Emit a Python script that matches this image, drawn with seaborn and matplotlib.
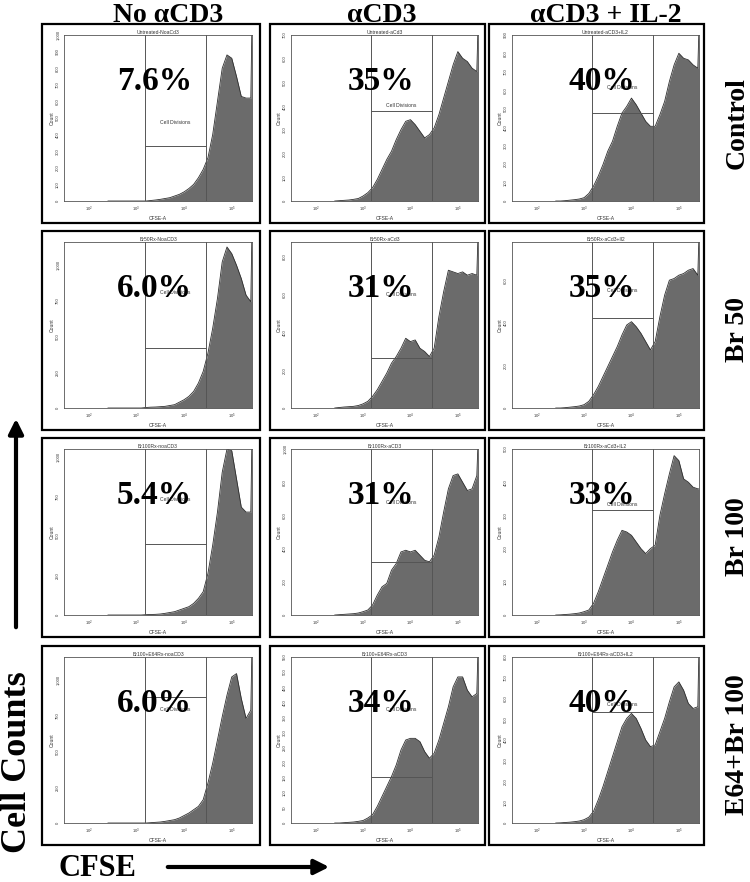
import numpy as np
import matplotlib
matplotlib.use("Agg")
import matplotlib.pyplot as plt
import seaborn as sns
from matplotlib.patches import Rectangle, FancyArrowPatch
from matplotlib.ticker import (AutoMinorLocator, FuncFormatter, LogLocator,
                               LogFormatterSciNotation, MultipleLocator, NullFormatter)

# CFSE intensity grid (log10 units), shared by every histogram; last point = off-scale pile-up
LOG_CFSE = [2.4, 2.5, 2.6, 2.7, 2.8, 2.9, 3.0, 3.1, 3.2, 3.3, 3.4, 3.5, 3.6, 3.7, 3.8,
            3.9, 4.0, 4.1, 4.2, 4.3, 4.4, 4.5, 4.6, 4.7, 4.8, 4.9, 5.0, 5.1, 5.2, 5.3,
            5.4, 5.42]

COL_LABELS = ["No \u03b1CD3", "\u03b1CD3", "\u03b1CD3 + IL-2"]
ROW_LABELS = ["Control", "Br 50", "Br 100", "E64+Br 100"]

PANEL_TITLES = [
    ["Untreated-NoaCd3", "Untreated-aCd3", "Untreated-aCD3+IL2"],
    ["Br50Rx-NoaCD3", "Br50Rx-aCd3", "Br50Rx-aCd3+Il2"],
    ["Br100Rx-noaCD3", "Br100Rx-aCD3", "Br100Rx-aCd3+IL2"],
    ["Br100+E64Rx-noaCD3", "Br100+E64Rx-aCD3", "Br100+E64Rx-aCD3+IL2"],
]
PERCENTS = [
    ["7.6%", "35%", "40%"],
    ["6.0%", "31%", "35%"],
    ["5.4%", "31%", "33%"],
    ["6.0%", "34%", "40%"],
]

# relative counts (fraction of the y-axis maximum)
control_no = [0, 0, 0, 0, 0, 0, 0, 0, 0, 0.003, 0.006, 0.01, 0.015, 0.02, 0.03,
              0.04, 0.055, 0.075, 0.10, 0.14, 0.19, 0.26, 0.40, 0.60, 0.80, 0.88, 0.86,
              0.75, 0.63, 0.62, 0.62, 1.0]
control_cd3 = [0, 0.002, 0.004, 0.006, 0.01, 0.015, 0.03, 0.05, 0.08, 0.13, 0.19, 0.25,
               0.30, 0.37, 0.43, 0.48, 0.49, 0.46, 0.42, 0.38, 0.40, 0.44, 0.52, 0.62,
               0.72, 0.82, 0.90, 0.86, 0.84, 0.80, 0.78, 1.0]
control_il2 = [0, 0, 0.002, 0.005, 0.008, 0.012, 0.02, 0.045, 0.09, 0.15, 0.22, 0.30,
               0.36, 0.45, 0.53, 0.57, 0.62, 0.58, 0.53, 0.48, 0.45, 0.45, 0.52, 0.60,
               0.72, 0.82, 0.89, 0.86, 0.85, 0.82, 0.80, 1.0]
br50_no = [0, 0, 0, 0, 0, 0, 0, 0, 0.003, 0.005, 0.006, 0.008, 0.01, 0.015, 0.02,
           0.035, 0.05, 0.07, 0.10, 0.15, 0.22, 0.33, 0.48, 0.66, 0.88, 0.97, 0.93,
           0.86, 0.78, 0.68, 0.64, 1.0]
br50_cd3 = [0, 0.003, 0.006, 0.008, 0.01, 0.015, 0.025, 0.04, 0.07, 0.11, 0.16, 0.21,
            0.27, 0.31, 0.36, 0.42, 0.40, 0.41, 0.36, 0.34, 0.31, 0.36, 0.55, 0.70,
            0.83, 0.82, 0.81, 0.82, 0.80, 0.81, 0.80, 1.0]
br50_il2 = [0, 0, 0.002, 0.005, 0.008, 0.012, 0.02, 0.04, 0.08, 0.13, 0.19, 0.25,
            0.31, 0.37, 0.44, 0.50, 0.52, 0.49, 0.45, 0.40, 0.35, 0.40, 0.55, 0.68,
            0.77, 0.78, 0.80, 0.81, 0.83, 0.84, 0.80, 1.0]
br100_no = [0, 0, 0, 0, 0, 0, 0, 0, 0.002, 0.003, 0.004, 0.006, 0.01, 0.015, 0.02,
            0.03, 0.04, 0.05, 0.07, 0.10, 0.14, 0.25, 0.42, 0.62, 0.86, 1.0, 0.99,
            0.82, 0.65, 0.62, 0.62, 1.0]
br100_cd3 = [0, 0.002, 0.004, 0.006, 0.008, 0.012, 0.02, 0.03, 0.06, 0.12, 0.17, 0.19,
             0.27, 0.31, 0.38, 0.39, 0.38, 0.39, 0.36, 0.33, 0.32, 0.36, 0.47, 0.62,
             0.76, 0.84, 0.85, 0.80, 0.75, 0.76, 0.84, 1.0]
br100_il2 = [0, 0.001, 0.003, 0.005, 0.008, 0.012, 0.02, 0.03, 0.07, 0.14, 0.22, 0.30,
             0.38, 0.45, 0.51, 0.50, 0.48, 0.44, 0.40, 0.37, 0.40, 0.42, 0.60, 0.73,
             0.85, 0.96, 0.93, 0.82, 0.80, 0.77, 0.76, 0.76]
e64_no = [0, 0, 0, 0, 0, 0, 0, 0, 0, 0.002, 0.004, 0.006, 0.01, 0.015, 0.02,
          0.03, 0.045, 0.06, 0.08, 0.10, 0.14, 0.24, 0.36, 0.50, 0.64, 0.77, 0.88,
          0.90, 0.75, 0.63, 0.68, 1.0]
e64_cd3 = [0, 0, 0.002, 0.004, 0.006, 0.01, 0.015, 0.03, 0.05, 0.10, 0.16, 0.22,
           0.28, 0.35, 0.44, 0.50, 0.51, 0.51, 0.49, 0.43, 0.39, 0.42, 0.50, 0.60,
           0.70, 0.82, 0.88, 0.88, 0.80, 0.76, 0.78, 1.0]
e64_il2 = [0, 0.001, 0.003, 0.005, 0.008, 0.012, 0.02, 0.035, 0.07, 0.14, 0.22, 0.31,
           0.40, 0.49, 0.58, 0.63, 0.66, 0.63, 0.57, 0.50, 0.46, 0.47, 0.55, 0.63,
           0.73, 0.82, 0.85, 0.80, 0.72, 0.69, 0.70, 1.0]

HISTOGRAMS = [
    [control_no, control_cd3, control_il2],
    [br50_no, br50_cd3, br50_il2],
    [br100_no, br100_cd3, br100_il2],
    [e64_no, e64_cd3, e64_il2],
]

# y-axis maximum and major tick step (counts) for each panel
Y_MAX = [[1000, 700, 900], [1160, 880, 780], [1050, 1000, 500], [1160, 550, 800]]
Y_STEP = [[100, 100, 100], [250, 200, 200], [250, 200, 100], [250, 50, 100]]

# "Cell Divisions" gate: CFSE range and its height (fraction of y max)
GATE_LOW = 1480
GATE_HIGH = 28200
GATE_LEVEL = [[0.33, 0.54, 0.53], [0.36, 0.30, 0.54], [0.43, 0.32, 0.63], [0.76, 0.28, 0.67]]
GATE_LABEL_Y = [[0.46, 0.56, 0.67], [0.68, 0.67, 0.69], [0.68, 0.66, 0.65], [0.67, 0.67, 0.70]]

W, H = 750, 882
BOX_X = [(42, 260), (270, 485), (489, 704)]
INNER_X = [(64, 252), (291, 478), (512, 699)]
BOX_TOP = [24, 231, 438, 646]

FILL = "#6b6b6b"
EDGE = "#2e2e2e"
GATE = "#555555"
SERIF = ["Liberation Serif", "DejaVu Serif"]


def fx(px):
    return px / W


def fy(py):
    return 1 - py / H


def draw_panel(ax, rel, ymax, ystep, gate, label_y, title, pct):
    x = 10 ** np.array(LOG_CFSE)
    y = np.array(rel) * ymax
    ax.set_xscale("log")
    ax.fill_between(x, y, color=FILL, lw=0, zorder=1)
    sns.lineplot(x=x, y=y, ax=ax, color=EDGE, lw=0.6, zorder=2)

    # gate lines
    for gx in (GATE_LOW, GATE_HIGH):
        ax.axvline(gx, color=GATE, lw=0.7, zorder=3)
    ax.plot([GATE_LOW, GATE_HIGH], [gate * ymax] * 2, color=GATE, lw=0.7, zorder=3)
    ax.text(np.sqrt(GATE_LOW * GATE_HIGH), label_y * ymax, "Cell Divisions",
            fontsize=3.6, ha="center", va="bottom", color="#333333", zorder=4)

    ax.text(0.48, 0.72, pct, transform=ax.transAxes, ha="center", va="center",
            fontsize=24, fontweight="bold", family=SERIF, color="black", zorder=5)

    ax.set_xlim(10 ** 1.48, 10 ** 5.425)
    ax.set_ylim(0, ymax)
    ax.set_title(title, fontsize=3.6, pad=1, color="#333333")
    ax.set_xlabel("CFSE-A", fontsize=3.6, labelpad=1, color="#333333")
    ax.set_ylabel("Count", fontsize=3.6, labelpad=1, color="#333333")

    ax.xaxis.set_major_locator(LogLocator(base=10, numticks=10))
    ax.xaxis.set_major_formatter(LogFormatterSciNotation())
    ax.xaxis.set_minor_locator(LogLocator(base=10, subs=np.arange(2, 10), numticks=20))
    ax.xaxis.set_minor_formatter(NullFormatter())
    ax.yaxis.set_major_locator(MultipleLocator(ystep))
    ax.yaxis.set_minor_locator(AutoMinorLocator(5))
    ax.yaxis.set_major_formatter(FuncFormatter(lambda v, p: f"{v:,.0f}"))
    ax.tick_params(axis="both", which="major", labelsize=3, length=2, width=0.5,
                   pad=1, direction="out", colors="#333333")
    ax.tick_params(axis="both", which="minor", length=1.2, width=0.4, direction="out")
    ax.tick_params(axis="y", labelrotation=90)
    for lbl in ax.get_yticklabels():
        lbl.set_va("center")
    for s in ax.spines.values():
        s.set_linewidth(0.6)
        s.set_color("#555555")
    ax.set_facecolor("white")


def main():
    sns.set_style("white")
    plt.rcParams["font.family"] = ["Liberation Sans", "DejaVu Sans"]
    plt.rcParams["text.color"] = "black"
    fig = plt.figure(figsize=(W / 100, H / 100), dpi=100)

    for r in range(4):
        top = BOX_TOP[r]
        for c in range(3):
            bx0, bx1 = BOX_X[c]
            fig.add_artist(Rectangle((fx(bx0), fy(top + 199)), fx(bx1 - bx0), 199 / H,
                                     transform=fig.transFigure, fill=False,
                                     lw=1.6, ec="black"))
            ix0, ix1 = INNER_X[c]
            ax = fig.add_axes([fx(ix0), fy(top + 177), fx(ix1 - ix0), 166 / H])
            draw_panel(ax, HISTOGRAMS[r][c], Y_MAX[r][c], Y_STEP[r][c], GATE_LEVEL[r][c],
                       GATE_LABEL_Y[r][c], PANEL_TITLES[r][c], PERCENTS[r][c])
        fig.text(fx(737), fy(top + 99), ROW_LABELS[r], rotation=90, ha="center",
                 va="center", fontsize=20, fontweight="bold", family=SERIF)

    for x_px, lab in zip([168, 382, 606], COL_LABELS):
        fig.text(fx(x_px), fy(22), lab, ha="center", va="baseline", fontsize=20,
                 fontweight="bold", family=SERIF)

    fig.text(fx(18), fy(762), "Cell Counts", rotation=90, ha="center", va="center",
             fontsize=26, fontweight="bold", family=SERIF)
    fig.text(fx(97), fy(868), "CFSE", ha="center", va="center", fontsize=22,
             fontweight="bold", family=SERIF)

    fig.add_artist(FancyArrowPatch((fx(16), fy(630)), (fx(16), fy(416)),
                                   transform=fig.transFigure, arrowstyle="-|>",
                                   mutation_scale=22, lw=3, color="black"))
    fig.add_artist(FancyArrowPatch((fx(165), fy(867)), (fx(332), fy(867)),
                                   transform=fig.transFigure, arrowstyle="-|>",
                                   mutation_scale=22, lw=3, color="black"))

    fig.savefig("out.png", dpi=100, facecolor="white")


if __name__ == "__main__":
    main()
